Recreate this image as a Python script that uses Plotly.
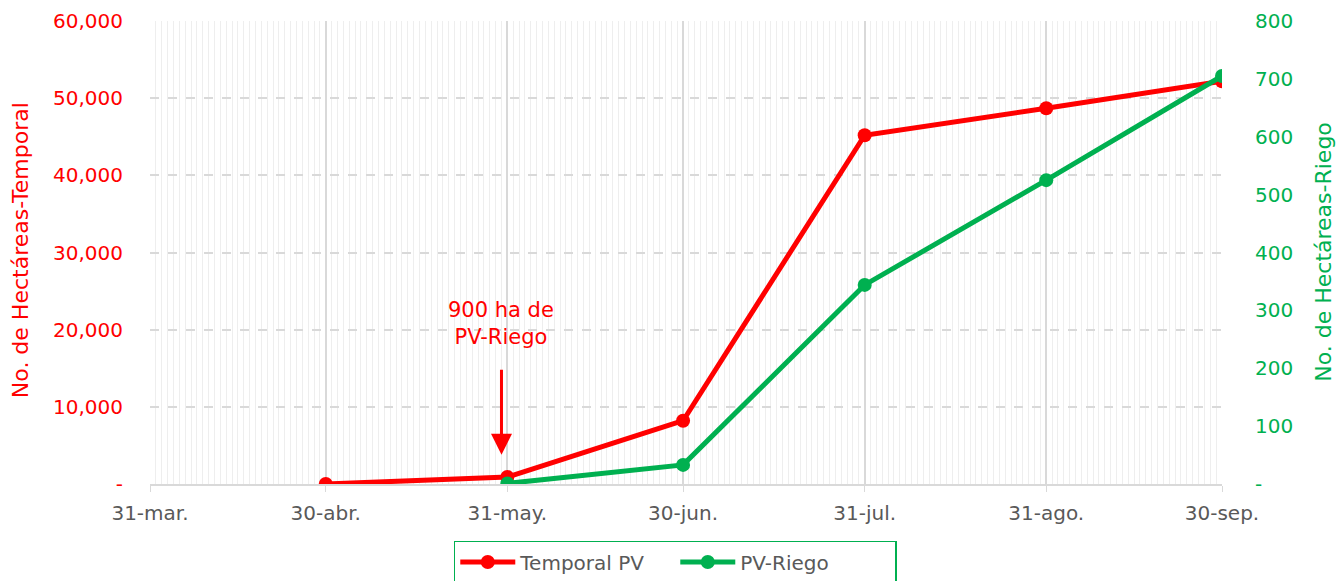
import plotly.graph_objects as go

dates_temporal = ["2024-04-30", "2024-05-31", "2024-06-30", "2024-07-31", "2024-08-31", "2024-09-30"]
temporal_pv = [0, 900, 8200, 45200, 48700, 52200]

dates_riego = ["2024-05-31", "2024-06-30", "2024-07-31", "2024-08-31", "2024-09-30"]
pv_riego = [1, 33, 344, 525, 705]

x_tickvals = ["2024-03-31", "2024-04-30", "2024-05-31", "2024-06-30", "2024-07-31", "2024-08-31", "2024-09-30"]
x_ticktext = ["31-mar.", "30-abr.", "31-may.", "30-jun.", "31-jul.", "31-ago.", "30-sep."]

y1_vals = [0, 10000, 20000, 30000, 40000, 50000, 60000]
y1_text = ["-", "10,000", "20,000", "30,000", "40,000", "50,000", "60,000"]
y2_vals = [0, 100, 200, 300, 400, 500, 600, 700, 800]
y2_text = ["-", "100", "200", "300", "400", "500", "600", "700", "800"]

RED = "#FF0000"
GREEN = "#00B050"
FONT = "DejaVu Sans"

fig = go.Figure()
fig.add_trace(go.Scatter(x=dates_temporal, y=temporal_pv, name="Temporal PV",
                         mode="lines+markers", line=dict(color=RED, width=5),
                         marker=dict(color=RED, size=14), yaxis="y"))
fig.add_trace(go.Scatter(x=dates_riego, y=pv_riego, name="PV-Riego",
                         mode="lines+markers", line=dict(color=GREEN, width=5),
                         marker=dict(color=GREEN, size=14), yaxis="y2"))

fig.update_layout(
    width=1336, height=600,
    margin=dict(l=150, r=114, t=21, b=116),
    paper_bgcolor="white", plot_bgcolor="white",
    font=dict(family=FONT, size=17, color="#595959"),
    showlegend=True,
    legend=dict(orientation="h", x=0.49, xanchor="center", y=-0.123, yanchor="top",
                bordercolor=GREEN, borderwidth=1.5, bgcolor="white",
                font=dict(size=20, color="#595959"), itemwidth=55, entrywidth=150),
    xaxis=dict(type="date", range=["2024-03-31", "2024-09-30"],
               tickvals=x_tickvals, ticktext=x_ticktext,
               tickfont=dict(size=20, color="#595959"),
               showgrid=True, gridcolor="#D9D9D9", gridwidth=1.5,
               ticks="outside", ticklen=6, tickcolor="#D9D9D9",
               ticklabelstandoff=4,
               showline=True, linecolor="#D9D9D9", linewidth=1.5,
               minor=dict(dtick=86400000, tick0="2024-03-31", showgrid=True,
                          gridcolor="#EEEEEE", gridwidth=1, ticks=""),
               zeroline=False, automargin=False),
    yaxis=dict(range=[0, 60000], tickvals=y1_vals, ticktext=y1_text,
               tickfont=dict(size=20, color=RED),
               showgrid=True, gridcolor="#D9D9D9", gridwidth=1.5, griddash="dash",
               zeroline=False, showline=False, ticks="", ticklabelstandoff=26,
               automargin=False),
    yaxis2=dict(range=[0, 800], tickvals=y2_vals, ticktext=y2_text, overlaying="y", side="right",
                tickfont=dict(size=20, color=GREEN),
                showgrid=False, zeroline=False, showline=False, ticks="", ticklabelstandoff=32,
                automargin=False),
)

# axis titles
fig.add_annotation(x=-0.1213, y=0.505, xref="paper", yref="paper", textangle=-90,
                   text="No. de Hectáreas-Temporal", showarrow=False,
                   font=dict(size=22, color=RED), xanchor="center", yanchor="middle")
fig.add_annotation(x=1.094, y=0.501, xref="paper", yref="paper", textangle=-90,
                   text="No. de Hectáreas-Riego", showarrow=False,
                   font=dict(size=22, color=GREEN), xanchor="center", yanchor="middle")

# arrow + note
fig.add_annotation(x="2024-05-30", y=3800, ax="2024-05-30", ay=15000,
                   xref="x", yref="y", axref="x", ayref="y",
                   showarrow=True, arrowhead=2, arrowsize=1.4, arrowwidth=3,
                   arrowcolor=RED, text="")
fig.add_annotation(x="2024-05-30", y=20800, xref="x", yref="y",
                   text="900 ha de<br>PV-Riego", showarrow=False,
                   font=dict(size=21, color=RED), align="center")

fig.write_html("out.html", config={"displayModeBar": False},
               post_script="document.body.style.margin='0';document.body.style.overflow='hidden';document.documentElement.style.overflow='hidden';")
